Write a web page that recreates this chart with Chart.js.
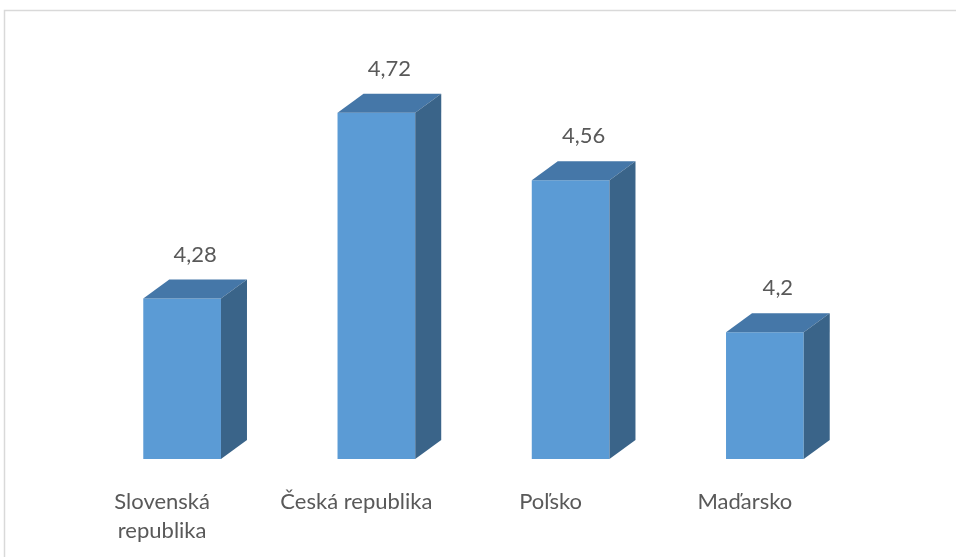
<!DOCTYPE html>
<html>
<head>
<meta charset="utf-8">
<script src="https://cdn.jsdelivr.net/npm/chart.js@4"></script>
<style>
  html, body { margin: 0; padding: 0; background: #fff; }
  #wrap { width: 956px; height: 557px; position: relative; }
</style>
</head>
<body>
<div id="wrap"><canvas id="chart"></canvas></div>
<script>
const categories = [['Slovenská', 'republika'], 'Česká republika', 'Poľsko', 'Maďarsko'];
const values = [4.28, 4.72, 4.56, 4.2];
const valueLabels = ['4,28', '4,72', '4,56', '4,2'];

const FRONT = '#5B9BD5';
const TOP = '#4577A8';
const SIDE = '#3A6489';
const TEXT = '#595959';
const FONT = "Lato, 'Liberation Sans', sans-serif";

// depth of the fake 3D box
const DX = 26, DY = 19;

// outer frame like the Excel chart area
const frame = {
  id: 'frame',
  beforeDraw(chart) {
    const ctx = chart.ctx;
    ctx.save();
    ctx.strokeStyle = '#D9D9D9';
    ctx.lineWidth = 1.5;
    ctx.strokeRect(4.5, 10.5, 1000, 600);
    ctx.restore();
  }
};

const bar3d = {
  id: 'bar3d',
  afterDatasetsDraw(chart) {
    const ctx = chart.ctx;
    const floor = chart.chartArea.bottom;
    ctx.save();
    chart.getDatasetMeta(0).data.forEach((bar, i) => {
      const { x, y, width } = bar.getProps(['x', 'y', 'width'], true);
      const l = x - width / 2, r = x + width / 2;

      ctx.fillStyle = TOP;
      ctx.beginPath();
      ctx.moveTo(l, y);
      ctx.lineTo(l + DX, y - DY);
      ctx.lineTo(r + DX, y - DY);
      ctx.lineTo(r, y);
      ctx.closePath();
      ctx.fill();

      ctx.fillStyle = SIDE;
      ctx.beginPath();
      ctx.moveTo(r, y);
      ctx.lineTo(r + DX, y - DY);
      ctx.lineTo(r + DX, floor - DY);
      ctx.lineTo(r, floor);
      ctx.closePath();
      ctx.fill();

      ctx.fillStyle = TEXT;
      ctx.font = '22px ' + FONT;
      ctx.textAlign = 'center';
      ctx.textBaseline = 'middle';
      ctx.fillText(valueLabels[i], x + DX / 2, y - DY - 25);
    });
    ctx.restore();
  }
};

new Chart(document.getElementById('chart'), {
  type: 'bar',
  data: {
    labels: categories,
    datasets: [{
      data: values,
      backgroundColor: FRONT,
      borderWidth: 0,
      barPercentage: 0.4,
      categoryPercentage: 1
    }]
  },
  options: {
    responsive: true,
    maintainAspectRatio: false,
    animation: false,
    layout: { padding: { left: 85, right: 94, top: 79, bottom: 0 } },
    plugins: { legend: { display: false }, tooltip: { enabled: false } },
    scales: {
      y: { display: false, min: 3.9, max: 4.8 },
      x: {
        grid: { display: false },
        border: { display: false },
        ticks: {
          color: TEXT,
          font: { family: FONT, size: 22, lineHeight: 1.3 },
          padding: 21,
          labelOffset: -20,
          maxRotation: 0
        },
        afterFit(scale) { scale.height = 98; }
      }
    }
  },
  plugins: [frame, bar3d]
});
</script>
</body>
</html>
